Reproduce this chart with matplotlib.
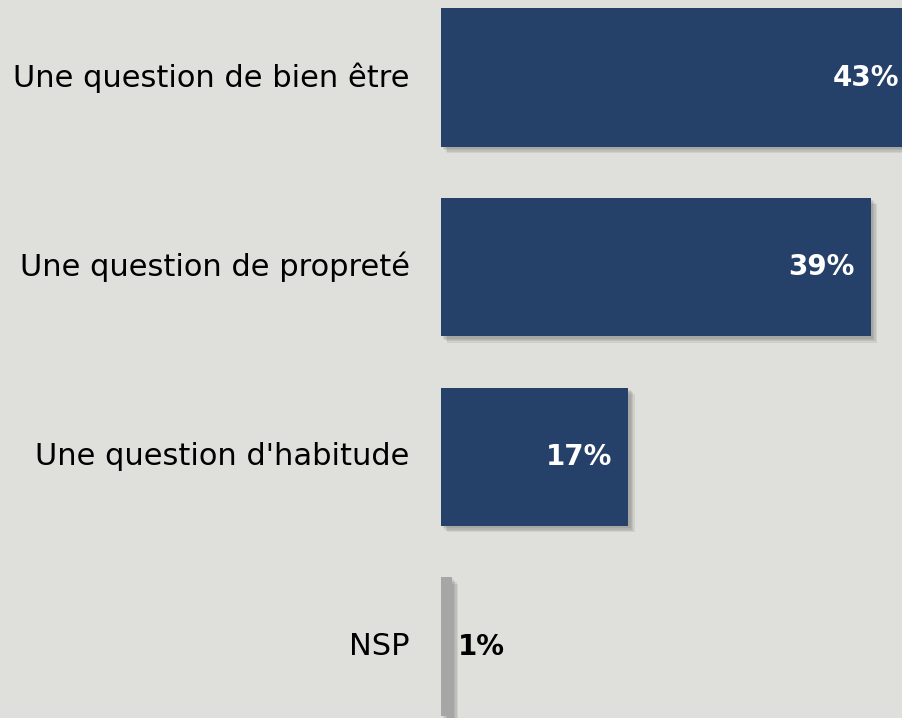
import matplotlib.pyplot as plt
import matplotlib.patheffects as pe

categories = ["Une question de bien être", "Une question de propreté",
              "Une question d'habitude", "NSP"]
values = [43, 39, 17, 1]
bar_colors = ["#254069", "#254069", "#254069", "#A6A6A6"]

fig = plt.figure(figsize=(9.03, 7.18), dpi=100)
fig.patch.set_facecolor("#DFE0DB")
ax = fig.add_axes([441 / 903, 0, 1 - 441 / 903, 1])
ax.set_facecolor("#DFE0DB")

y = list(range(len(categories)))
bars = ax.barh(y, values, height=0.73, color=bar_colors, clip_on=False)
# soft drop shadow, a few stacked offsets
shadow = [pe.SimplePatchShadow(offset=(d, -d), shadow_rgbFace="#555555", alpha=0.12)
          for d in (4.5, 3.5, 2.5, 1.5)]
for b in bars:
    b.set_path_effects(shadow + [pe.Normal()])

ax.set_xlim(0, 41.9)
ax.set_ylim(3.377, -0.409)
ax.axis("off")

for yi, v, lab in zip(y, values, categories):
    ax.annotate(lab, (0, yi), xytext=(-22.5, 0), textcoords="offset points",
                ha="right", va="center", fontsize=22, color="black",
                annotation_clip=False)
    if v >= 5:
        ax.annotate(f"{v}%", (v, yi), xytext=(-11.5, 0), textcoords="offset points",
                    ha="right", va="center", fontsize=20, fontweight="bold",
                    color="white", annotation_clip=False)
    else:
        ax.annotate(f"{v}%", (v, yi), xytext=(4, 0), textcoords="offset points",
                    ha="left", va="center", fontsize=20, fontweight="bold",
                    color="black", annotation_clip=False)

fig.savefig("out.png", dpi=100, facecolor=fig.get_facecolor())
